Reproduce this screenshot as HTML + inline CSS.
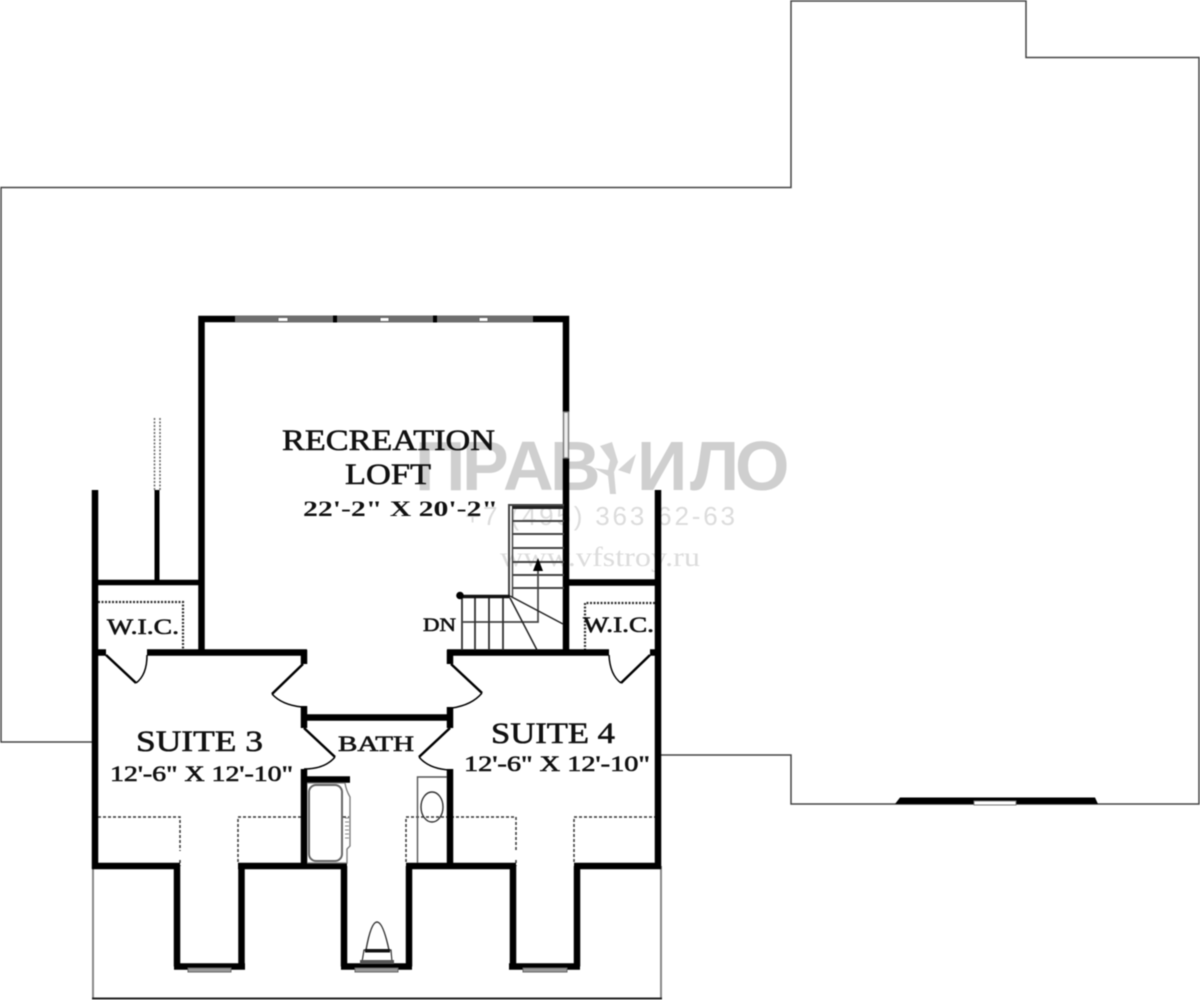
<!DOCTYPE html>
<html><head><meta charset="utf-8"><style>
html,body{margin:0;padding:0;background:#fff;width:1200px;height:1000px;overflow:hidden}
svg{display:block;filter:blur(.5px)}
text{font-family:"Liberation Serif",serif;fill:#111}
.l{stroke:#111;stroke-width:.6px}
</style></head><body>
<svg width="1200" height="1000" viewBox="0 0 1200 1000" xmlns="http://www.w3.org/2000/svg">
<rect width="1200" height="1000" fill="#fff"/>
<!-- watermark -->
<text x="415 462 503 550 637 690 735" y="490" font-size="70" font-weight="bold" style="font-family:'Liberation Sans',sans-serif;fill:#cfcfcf">ПРАВИЛО</text>
<path d="M612 442l6 20-4 10 2 22h-6l-2-18-14-8 14 2 2-10-10-14zM618 470l18-16-6 20z" fill="#d4d4d4"/>
<text x="465" y="525" font-size="26" textLength="270" lengthAdjust="spacing" style="font-family:'Liberation Sans',sans-serif;fill:#dcdcdc">+7 (495) 363 62-63</text>
<text x="500" y="566" font-size="27" textLength="200" lengthAdjust="spacingAndGlyphs" style="fill:#dcdcdc">www.vfstroy.ru</text>
<!-- outer thin outline -->
<g fill="none" stroke="#444" stroke-width="1.5">
<path d="M93 742H1V187.500H791V1H1026V57.500H1199V804H791V755H660"/>
</g>
<path d="M93 866V998" fill="none" stroke="#888" stroke-width="2"/>
<path d="M661 866V998" fill="none" stroke="#888" stroke-width="2"/>
<path d="M92 998.500H662" fill="none" stroke="#222" stroke-width="2"/>
<!-- porch window on right -->
<path d="M895 804L900 797.500H1095L1098 804z" fill="#000"/>
<rect x="974" y="801" width="42" height="4" fill="#fff" stroke="#777" stroke-width="1"/>
<!-- dotted lines -->
<g fill="none" stroke="#333" stroke-width="1.500" stroke-dasharray="3 2">
<path d="M98 817H180V851M180 860V866"/>
<path d="M238 862V817H349"/>
<path d="M406 862V817H516V850M516 860V866"/>
<path d="M574 862V817H655"/>
</g>
<g fill="none" stroke="#333" stroke-width="2.200" stroke-dasharray="2 1.500">
<path d="M98 602H183V650"/>
<path d="M655 603H585V650"/>
</g>
<path d="M154.500 418V490M160 418V490" fill="none" stroke="#666" stroke-width="1.500" stroke-dasharray="2 1.500"/>
<!-- thick walls -->
<g fill="none" stroke="#000" stroke-width="6.500" stroke-linecap="butt">
<path d="M201.500 652V319H235"/>
<path d="M533 319H566V412"/>
<path d="M566 458V652"/>
<path d="M95 490V869"/>
<path d="M658 490V869"/>
<path d="M157 490V582" stroke-width="5"/>
<path d="M95 582.500H201" stroke-width="5.500"/>
<path d="M566 582.500H658"/>
<path d="M95 652.500H106M147 652.500H307"/>
<path d="M304 650V664M304 706V728M304 769V869"/>
<path d="M304 717.500H450"/>
<path d="M304 779.500H350"/>
<path d="M447 652.500H609M650 652.500H658"/>
<path d="M450 650V664M450 707V728M450 769V869"/>
<path d="M92 866H180"/>
<path d="M177 866V966.500"/>
<path d="M174 966.500H245"/>
<path d="M241.500 966.500V866"/>
<path d="M238 866H347"/>
<path d="M344 866V966.500"/>
<path d="M341 966.500H412"/>
<path d="M409 966.500V866"/>
<path d="M406 866H516"/>
<path d="M513 866V966.500"/>
<path d="M509 966.500H580"/>
<path d="M577 966.500V866"/>
<path d="M574 866H661"/>
</g>
<!-- top windows -->
<rect x="235" y="315.500" width="298" height="7" fill="#6e6e6e"/>
<rect x="278" y="317.500" width="10" height="4" fill="#fff" stroke="#666" stroke-width="1"/>
<rect x="380" y="317.500" width="9" height="4" fill="#fff" stroke="#666" stroke-width="1"/>
<rect x="479" y="317.500" width="9" height="4" fill="#fff" stroke="#666" stroke-width="1"/>
<rect x="333" y="315.500" width="4" height="7" fill="#000"/>
<rect x="433" y="315.500" width="4" height="7" fill="#000"/>
<!-- side window -->
<rect x="563.500" y="412" width="5" height="46" fill="#eee" stroke="#777" stroke-width="1.400"/>
<!-- dormer windows -->
<rect x="188" y="968" width="43" height="4" fill="#999" stroke="#666" stroke-width="1"/>
<rect x="355" y="968" width="43" height="4" fill="#999" stroke="#666" stroke-width="1"/>
<rect x="523" y="968" width="44" height="4" fill="#999" stroke="#666" stroke-width="1"/>
<!-- doors -->
<g fill="none" stroke="#000">
<path d="M106 655L136 683" stroke-width="2.500"/>
<path d="M136 683Q147 675 147 655" stroke-width="1.500"/>
<path d="M650 655L621 683" stroke-width="2.500"/>
<path d="M621 683Q610 675 609 655" stroke-width="1.500"/>
<path d="M303 664L272 694" stroke-width="2.500"/>
<path d="M272 694Q282 705 302 707" stroke-width="1.500"/>
<path d="M451 664L482 693" stroke-width="2.500"/>
<path d="M482 693Q472 705 452 708" stroke-width="1.500"/>
<path d="M304 728L335 757" stroke-width="2.500"/>
<path d="M335 757Q325 769 304 769" stroke-width="1.500"/>
<path d="M450 728L419 757" stroke-width="2.500"/>
<path d="M419 757Q429 769 450 770" stroke-width="1.500"/>
</g>
<!-- tub -->
<rect x="309" y="785" width="33" height="76" rx="7" fill="#fff" stroke="#666" stroke-width="2"/>
<path d="M307 783H345Q346 790 350 797V846L347 849V863H307" fill="none" stroke="#777" stroke-width="1.300"/>
<path d="M345 818H349M345 822H349M345 826H349M345 830H349M345 834H349M345 838H349" stroke="#888" stroke-width="1"/>
<!-- sink -->
<path d="M447 777H417.500V863" fill="none" stroke="#555" stroke-width="1.400"/>
<ellipse cx="432" cy="807" rx="11" ry="15" fill="none" stroke="#333" stroke-width="1.400"/>
<!-- toilet -->
<path d="M366 950Q371 922 377 922Q383 922 389 950" fill="#fff" stroke="#333" stroke-width="1.400"/>
<path d="M364 950H391L392 962H362z" fill="#fff" stroke="#333" stroke-width="1.200"/>
<rect x="365" y="949" width="25" height="3.500" fill="#111"/>
<rect x="360" y="960" width="34" height="4" fill="#555"/>
<!-- stairs -->
<g fill="none" stroke="#444">
<path d="M509 597V505H564" stroke-width="2"/>
<path d="M512.500 597V509" stroke-width="1.500"/>
<path d="M512 507.500H564" stroke="#222" stroke-width="3"/>
<path d="M512 521H564M512 534H564M512 548H564M512 562H564M512 575H564M512 588H564" stroke-width="2"/>
<path d="M538 570V622H463" stroke-width="1.700"/>
<path d="M462 597V650M475 597V650M489 597V650M503 597V650" stroke="#333" stroke-width="1.800"/>
<path d="M510 596L563 624M510 598L537 650" stroke="#222" stroke-width="1.500"/>
</g>
<path d="M460 596.500H510" stroke="#111" stroke-width="3.500" fill="none"/>
<circle cx="460" cy="595.500" r="3.800" fill="#000"/>
<path d="M538 558L533 571H543z" fill="#000"/>
<!-- labels -->
<text class="l" x="282" y="450" font-size="30" textLength="213" lengthAdjust="spacingAndGlyphs">RECREATION</text>
<text class="l" x="345" y="484" font-size="30" textLength="86" lengthAdjust="spacingAndGlyphs">LOFT</text>
<text x="303" y="516" font-size="22" textLength="195" lengthAdjust="spacingAndGlyphs" font-weight="bold">22'-2" X 20'-2"</text>
<text class="l" x="136" y="751" font-size="30" textLength="127" lengthAdjust="spacingAndGlyphs">SUITE 3</text>
<text class="l" x="110" y="781" font-size="22" textLength="183" lengthAdjust="spacingAndGlyphs">12'-6" X 12'-10"</text>
<text class="l" x="491" y="743" font-size="30" textLength="124" lengthAdjust="spacingAndGlyphs">SUITE 4</text>
<text class="l" x="464" y="771" font-size="22" textLength="186" lengthAdjust="spacingAndGlyphs">12'-6" X 12'-10"</text>
<text class="l" x="338" y="751" font-size="22" textLength="76" lengthAdjust="spacingAndGlyphs">BATH</text>
<text class="l" x="107" y="634" font-size="22" textLength="72" lengthAdjust="spacingAndGlyphs">W.I.C.</text>
<text class="l" x="583" y="632" font-size="22" textLength="71" lengthAdjust="spacingAndGlyphs">W.I.C.</text>
<text class="l" x="423" y="631" font-size="19" textLength="33" lengthAdjust="spacingAndGlyphs">DN</text>
</svg>
</body></html>
